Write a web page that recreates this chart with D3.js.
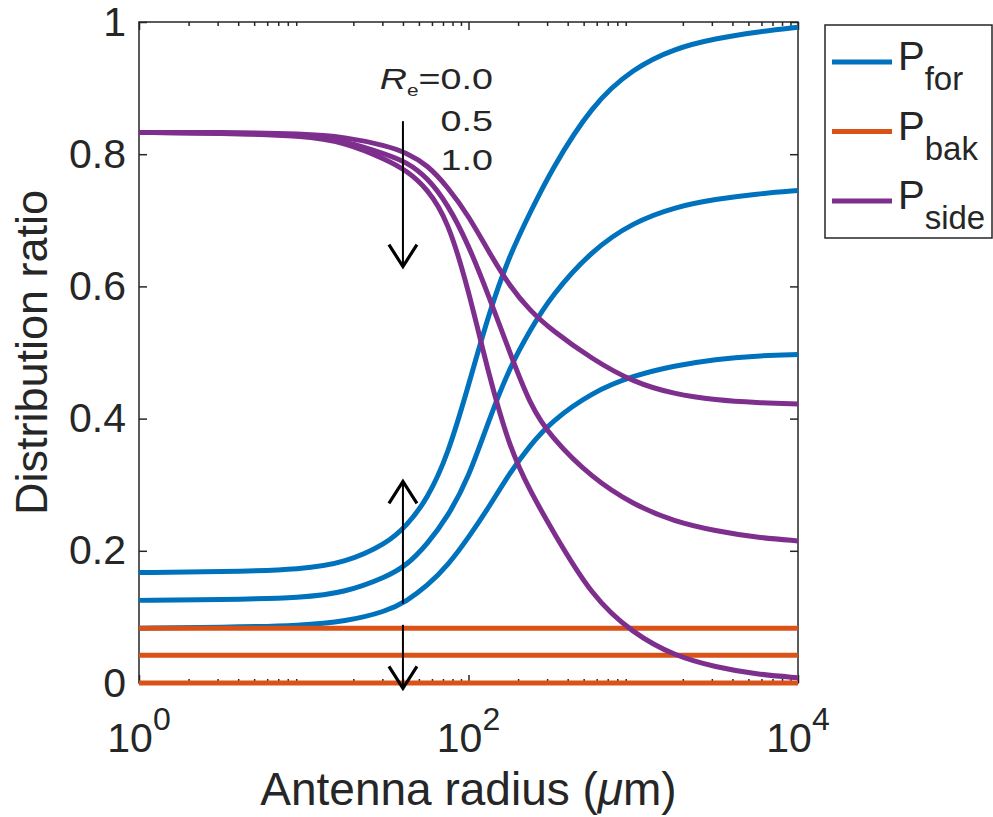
<!DOCTYPE html>
<html>
<head>
<meta charset="utf-8">
<script src="https://cdn.jsdelivr.net/npm/d3@7"></script>
<style>
  body { margin: 0; background: #fff; }
  svg text { font-family: "Liberation Sans", Arial, Helvetica, sans-serif; fill: #262626; }
</style>
</head>
<body>
<svg id="chart" width="993" height="817"></svg>
<script>
// antenna radius samples (um)
const radius = [1, 3.16, 10, 17.8, 31.6, 42.2, 56.2, 75, 100, 133, 178, 237, 316, 562, 1000, 1778, 3162, 5623, 10000];

// forward ratio, Re = 0.0 / 0.5 / 1.0
const pForRe00 = [0.167, 0.168, 0.172, 0.182, 0.21, 0.238, 0.278, 0.345, 0.45, 0.56, 0.648, 0.712, 0.775, 0.875, 0.93, 0.96, 0.975, 0.985, 0.992];
const pForRe05 = [0.125, 0.126, 0.129, 0.137, 0.16, 0.178, 0.21, 0.252, 0.31, 0.398, 0.478, 0.534, 0.585, 0.655, 0.697, 0.72, 0.732, 0.74, 0.745];
const pForRe10 = [0.083, 0.084, 0.087, 0.093, 0.108, 0.124, 0.147, 0.178, 0.22, 0.266, 0.318, 0.36, 0.395, 0.44, 0.465, 0.48, 0.49, 0.495, 0.497];

// side ratio, Re = 0.0 / 0.5 / 1.0
const pSideRe00 = [0.833, 0.832, 0.828, 0.818, 0.792, 0.775, 0.748, 0.70, 0.595, 0.465, 0.355, 0.29, 0.235, 0.13, 0.075, 0.041, 0.024, 0.013, 0.008];
const pSideRe05 = [0.833, 0.832, 0.829, 0.82, 0.8, 0.788, 0.765, 0.724, 0.663, 0.585, 0.5, 0.42, 0.372, 0.31, 0.27, 0.244, 0.23, 0.22, 0.215];
const pSideRe10 = [0.833, 0.833, 0.831, 0.826, 0.813, 0.802, 0.784, 0.75, 0.707, 0.652, 0.6, 0.563, 0.535, 0.49, 0.455, 0.437, 0.428, 0.424, 0.422];

// backward ratio is flat, Re = 0.0 / 0.5 / 1.0
const pBakRe = [0, 0.042, 0.083];

const reLabels = ["0.0", "0.5", "1.0"];
const yTicks = [0, 0.2, 0.4, 0.6, 0.8, 1];
const xTicks = [1, 100, 10000];
const xTickExp = ["0", "2", "4"];

const legendItems = [
  { sub: "for", color: "#0072BD" },
  { sub: "bak", color: "#D95319" },
  { sub: "side", color: "#7E2F8E" }
];

const svg = d3.select("#chart");
const mLeft = 139, mRight = 798, mTop = 22, mBottom = 683;

const x = d3.scaleLog().domain([1, 10000]).range([mLeft, mRight]);
const y = d3.scaleLinear().domain([0, 1]).range([mBottom, mTop]);

const ink = "#262626";

// minor log ticks (2..9 in each decade)
const minorTicks = [];
[1, 10, 100, 1000].forEach(d => {
  for (let m = 2; m <= 9; m++) minorTicks.push(d * m);
});

function styleAxis(g) {
  g.select(".domain").remove();
  g.selectAll(".tick line").attr("stroke", ink).attr("stroke-width", 1.5);
}

svg.append("g").attr("transform", `translate(0,${mBottom})`)
  .call(d3.axisBottom(x).tickValues(minorTicks).tickSize(-4).tickFormat(""))
  .call(styleAxis);
svg.append("g").attr("transform", `translate(0,${mTop})`)
  .call(d3.axisTop(x).tickValues(minorTicks).tickSize(-4).tickFormat(""))
  .call(styleAxis);
svg.append("g").attr("transform", `translate(0,${mBottom})`)
  .call(d3.axisBottom(x).tickValues(xTicks).tickSize(-8).tickFormat(""))
  .call(styleAxis);
svg.append("g").attr("transform", `translate(0,${mTop})`)
  .call(d3.axisTop(x).tickValues(xTicks).tickSize(-8).tickFormat(""))
  .call(styleAxis);

const yAxis = svg.append("g").attr("transform", `translate(${mLeft},0)`)
  .call(d3.axisLeft(y).tickValues(yTicks).tickSize(-8).tickPadding(13).tickFormat(d3.format("~g")))
  .call(styleAxis);
yAxis.selectAll("text")
  .style("font-size", "41px")
  .style("font-family", "'Liberation Sans', Arial, sans-serif")
  .attr("fill", ink);

svg.append("g").attr("transform", `translate(${mRight},0)`)
  .call(d3.axisRight(y).tickValues(yTicks).tickSize(-8).tickFormat(""))
  .call(styleAxis);

// x tick labels as powers of ten
const xLab = svg.append("g").selectAll("text")
  .data(xTicks)
  .join("text")
  .attr("x", d => x(d))
  .attr("y", 752)
  .attr("text-anchor", "middle")
  .style("font-size", "41px");
xLab.append("tspan").text("10");
xLab.append("tspan")
  .attr("dy", -22)
  .style("font-size", "32px")
  .text((d, i) => xTickExp[i]);

// axes box
svg.append("rect")
  .attr("x", mLeft).attr("y", mTop)
  .attr("width", mRight - mLeft).attr("height", mBottom - mTop)
  .attr("fill", "none").attr("stroke", ink).attr("stroke-width", 1.5);

// curves
const line = d3.line()
  .x((d, i) => x(radius[i]))
  .y(d => y(d))
  .curve(d3.curveBasis);

const lineW = 5;

svg.append("g").selectAll("path")
  .data([pForRe00, pForRe05, pForRe10])
  .join("path")
  .attr("d", line)
  .attr("fill", "none")
  .attr("stroke", legendItems[0].color)
  .attr("stroke-width", lineW);

svg.append("g").selectAll("line")
  .data(pBakRe)
  .join("line")
  .attr("x1", x(radius[0]))
  .attr("x2", x(radius[radius.length - 1]))
  .attr("y1", d => y(d))
  .attr("y2", d => y(d))
  .attr("stroke", legendItems[1].color)
  .attr("stroke-width", lineW);

svg.append("g").selectAll("path")
  .data([pSideRe00, pSideRe05, pSideRe10])
  .join("path")
  .attr("d", line)
  .attr("fill", "none")
  .attr("stroke", legendItems[2].color)
  .attr("stroke-width", lineW);

// arrows at r = 40 um
const arrowR = 40;
const arrows = [
  { from: 0.85, to: 0.63 },
  { from: 0.12, to: 0.305 },
  { from: 0.088, to: -0.008 }
];
const ag = svg.append("g");
arrows.forEach(a => {
  const ax = x(arrowR), y0 = y(a.from), y1 = y(a.to);
  const dir = y1 > y0 ? 1 : -1;
  ag.append("line")
    .attr("x1", ax).attr("x2", ax)
    .attr("y1", y0).attr("y2", y1)
    .attr("stroke", "#000").attr("stroke-width", 2);
  ag.append("path")
    .attr("d", `M${ax - 14},${y1 - dir * 22} L${ax},${y1} L${ax + 14},${y1 - dir * 22}`)
    .attr("fill", "none").attr("stroke", "#000").attr("stroke-width", 3.2);
});

// Re labels, drawn slightly stretched like the original
const labelX = 493;
const labelY = [89, 131, 170];
reLabels.forEach((lab, i) => {
  const t = svg.append("text")
    .attr("transform", `translate(${labelX},${labelY[i]}) scale(1.3,1)`)
    .attr("text-anchor", "end")
    .style("font-size", "29px")
    .attr("fill", "#000");
  if (i === 0) {
    t.append("tspan").style("font-style", "italic").text("R");
    t.append("tspan").attr("dy", 7).style("font-size", "16px").text("e");
    t.append("tspan").attr("dy", -7).text("=" + lab);
  } else {
    t.text(lab);
  }
});

// axis titles
svg.append("text")
  .attr("x", (mLeft + mRight) / 2)
  .attr("y", 805)
  .attr("text-anchor", "middle")
  .style("font-size", "46px")
  .call(t => {
    t.append("tspan").text("Antenna radius (");
    t.append("tspan").style("font-style", "italic").text("μ");
    t.append("tspan").text("m)");
  });

svg.append("text")
  .attr("transform", `translate(47,${(mTop + mBottom) / 2}) rotate(-90)`)
  .attr("text-anchor", "middle")
  .style("font-size", "45px")
  .text("Distribution ratio");

// legend
const lg = svg.append("g");
lg.append("rect")
  .attr("x", 825).attr("y", 25)
  .attr("width", 167).attr("height", 213)
  .attr("fill", "#fff").attr("stroke", ink).attr("stroke-width", 1.5);

const li = lg.selectAll("g.item")
  .data(legendItems)
  .join("g")
  .attr("class", "item")
  .attr("transform", (d, i) => `translate(0,${62 + i * 69.5})`);
li.append("line")
  .attr("x1", 832).attr("x2", 892)
  .attr("stroke", d => d.color).attr("stroke-width", lineW);
const lt = li.append("text")
  .attr("x", 898).attr("y", 8)
  .style("font-size", "40px");
lt.append("tspan").text("P");
lt.append("tspan").attr("dy", 20).style("font-size", "33px").text(d => d.sub);
</script>
</body>
</html>
